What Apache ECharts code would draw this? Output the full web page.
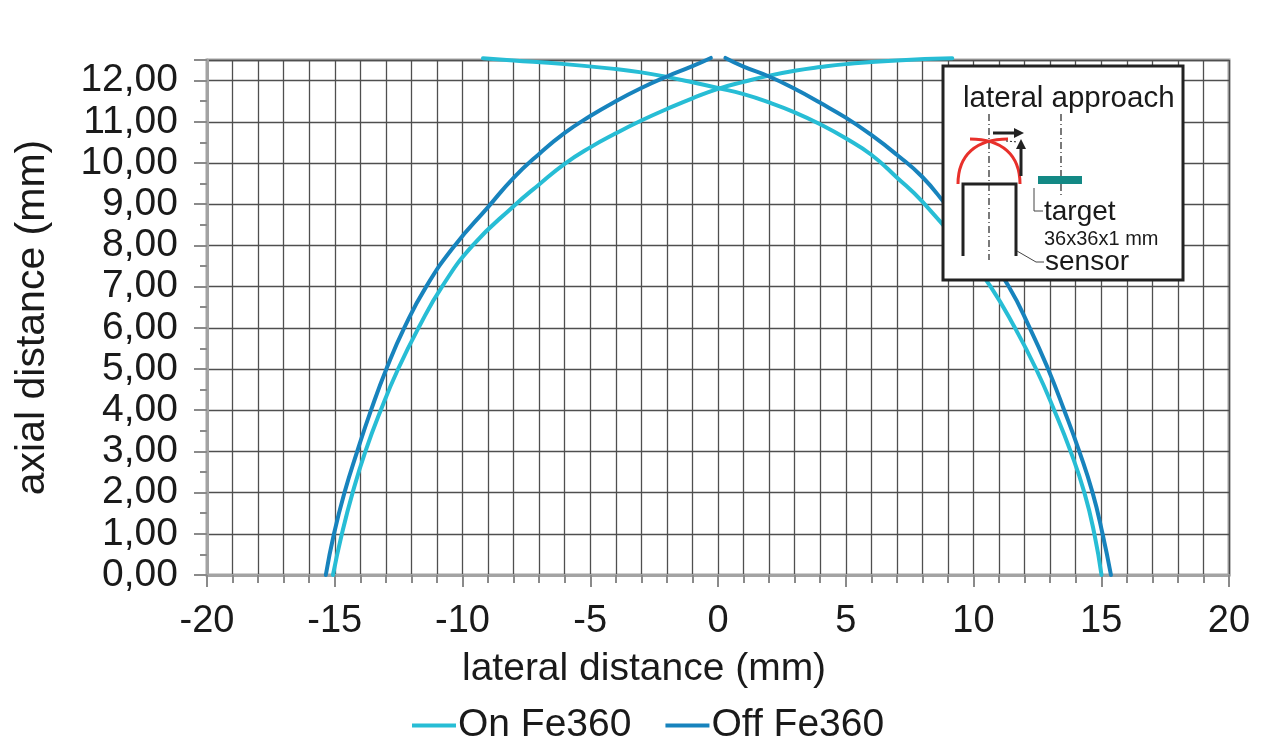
<!DOCTYPE html>
<html>
<head>
<meta charset="utf-8">
<script src="https://cdn.jsdelivr.net/npm/echarts@6/dist/echarts.min.js"></script>
<style>
  html, body { margin: 0; padding: 0; background: #fff; }
  #chart { width: 1280px; height: 749px; }
</style>
</head>
<body>
<div id="chart"></div>
<script>
// lateral (x) / axial (y) distance in mm
// each curve has two branches that cross near the top
var onLeftBranch = [
  [-15.07, 0], [-14.72, 1], [-14.3, 2], [-13.8, 3], [-13.2, 4], [-12.52, 5],
  [-11.72, 6], [-10.8, 7], [-9.6, 8], [-8, 8.95], [-7, 9.48],
  [-6, 9.98], [-5, 10.38], [-4, 10.72], [-3, 11.03], [-2, 11.31], [-1, 11.57],
  [0, 11.8], [1, 11.97], [2, 12.12], [3, 12.24], [4, 12.33], [5, 12.4],
  [7, 12.49], [9.17, 12.54]
];
var onRightBranch = [
  [15.01, 0], [14.73, 1], [14.34, 2], [13.8, 3], [13.16, 4], [12.45, 5],
  [11.62, 6], [10.67, 7], [9.6, 7.9], [8, 9.06], [7, 9.65],
  [6, 10.2], [5, 10.6], [4, 10.94], [3, 11.23], [2, 11.47], [1, 11.67],
  [0, 11.82], [-1, 11.96], [-2, 12.09], [-3, 12.2], [-4, 12.28], [-6, 12.4],
  [-8, 12.49], [-9.2, 12.54]
];
var offLeftBranch = [
  [-15.35, 0], [-15.03, 1], [-14.62, 2], [-14.12, 3], [-13.58, 4], [-12.98, 5],
  [-12.28, 6], [-11.42, 7], [-10.3, 8], [-9, 8.93], [-8, 9.64],
  [-7, 10.22], [-6, 10.73], [-5, 11.14], [-4, 11.5], [-3, 11.82], [-2, 12.1],
  [-1, 12.35], [-0.28, 12.55]
];
var offRightBranch = [
  [15.38, 0], [15.05, 1], [14.66, 2], [14.14, 3], [13.55, 4], [12.92, 5],
  [12.2, 6], [11.38, 7], [10.3, 8], [9, 8.93], [8, 9.66],
  [7, 10.2], [6, 10.68], [5, 11.1], [4, 11.46], [3, 11.8], [2, 12.1],
  [1, 12.34], [0.29, 12.55]
];
var seriesNames = ['On Fe360', 'Off Fe360'];
var seriesColors = ['#27bdd5', '#1783bd'];

var FONT = "'Liberation Sans', Arial, sans-serif";
var TXT = '#1a1a1a';
var GRIDC = '#4f4f4f';
var AXISC = '#a3a3a3';

var myChart = echarts.init(document.getElementById('chart'));

function branch(name, color, data) {
  return {
    name: name,
    type: 'line',
    data: data,
    smooth: 0.5,
    showSymbol: false,
    clip: false,
    z: 5,
    lineStyle: { color: color, width: 4, cap: 'round' },
    itemStyle: { color: color }
  };
}

// inset drawing (sensor sketch)
var insetGraphic = [
  { type: 'rect', z: 100, shape: { x: 943, y: 66, width: 240, height: 214 },
    style: { fill: '#fff', stroke: '#222', lineWidth: 3 } },
  { type: 'text', z: 101, style: { text: 'lateral approach', x: 963, y: 99,
    font: '29.5px ' + FONT, fill: TXT, verticalAlign: 'middle' } },
  // center lines
  { type: 'line', z: 101, shape: { x1: 989, y1: 114, x2: 989, y2: 260 },
    style: { stroke: '#222', lineWidth: 1.2, lineDash: [7, 3, 1, 3] } },
  { type: 'line', z: 101, shape: { x1: 1061, y1: 114, x2: 1061, y2: 195 },
    style: { stroke: '#222', lineWidth: 1.2, lineDash: [7, 3, 1, 3] } },
  // red switching curves
  { type: 'bezierCurve', z: 101, shape: { x1: 958, y1: 184, cpx1: 958, cpy1: 155, cpx2: 976, cpy2: 139, x2: 1008, y2: 139 },
    style: { stroke: '#e8302b', lineWidth: 3, fill: null } },
  { type: 'bezierCurve', z: 101, shape: { x1: 1020, y1: 184, cpx1: 1020, cpy1: 155, cpx2: 1002, cpy2: 139, x2: 970, y2: 139 },
    style: { stroke: '#e8302b', lineWidth: 3, fill: null } },
  // sensor outline
  { type: 'polyline', z: 101, shape: { points: [[963, 256], [963, 184], [1016, 184], [1016, 256]] },
    style: { stroke: '#222', lineWidth: 3, fill: null } },
  { type: 'polyline', z: 101, shape: { points: [[1017, 251], [1036, 262], [1044, 262]] },
    style: { stroke: '#444', lineWidth: 1, fill: null } },
  { type: 'text', z: 101, style: { text: 'sensor', x: 1045, y: 262,
    font: '28px ' + FONT, fill: TXT, verticalAlign: 'middle' } },
  // target plate
  { type: 'rect', z: 101, shape: { x: 1038, y: 176, width: 44, height: 8 },
    style: { fill: '#138985' } },
  { type: 'polyline', z: 101, shape: { points: [[1034, 188], [1034, 211], [1043, 211]] },
    style: { stroke: '#444', lineWidth: 1, fill: null } },
  { type: 'text', z: 101, style: { text: 'target', x: 1044, y: 212,
    font: '28px ' + FONT, fill: TXT, verticalAlign: 'middle' } },
  { type: 'text', z: 101, style: { text: '36x36x1 mm', x: 1044, y: 239,
    font: '20px ' + FONT, fill: TXT, verticalAlign: 'middle' } },
  // arrows
  { type: 'line', z: 101, shape: { x1: 993, y1: 133, x2: 1016, y2: 133 },
    style: { stroke: '#222', lineWidth: 3 } },
  { type: 'polygon', z: 101, shape: { points: [[1024, 133], [1014, 128], [1014, 138]] },
    style: { fill: '#222' } },
  { type: 'line', z: 101, shape: { x1: 1021, y1: 176, x2: 1021, y2: 147 },
    style: { stroke: '#222', lineWidth: 3 } },
  { type: 'polygon', z: 101, shape: { points: [[1021, 139], [1016, 149], [1026, 149]] },
    style: { fill: '#222' } },
  { type: 'line', z: 101, shape: { x1: 1006, y1: 141, x2: 1018, y2: 142 },
    style: { stroke: '#222', lineWidth: 1, lineDash: [2, 2] } }
];

var option = {
  backgroundColor: '#fff',
  animation: false,
  textStyle: { fontFamily: FONT },
  title: {
    text: 'lateral distance (mm)',
    left: 457,
    top: 645,
    textStyle: { fontFamily: FONT, fontSize: 39, fontWeight: 'normal', color: TXT }
  },
  legend: {
    data: seriesNames,
    left: 407,
    top: 701,
    icon: 'rect',
    itemWidth: 44,
    itemHeight: 4,
    itemGap: 34,
    textStyle: { fontFamily: FONT, fontSize: 39, color: TXT, padding: [0, 0, 0, -3] }
  },
  grid: {
    left: 207, right: 51, top: 60, bottom: 174,
    show: true, borderColor: AXISC, borderWidth: 3, backgroundColor: 'transparent'
  },
  xAxis: {
    type: 'value',
    min: -20, max: 20, interval: 5,
    axisLine: { show: true, onZero: false, lineStyle: { color: AXISC, width: 3 } },
    axisTick: { show: true, length: 12, lineStyle: { color: '#8a8a8a', width: 2 } },
    minorTick: { show: true, splitNumber: 5, length: 8, lineStyle: { color: '#8a8a8a', width: 2 } },
    splitLine: { show: true, lineStyle: { color: GRIDC, width: 1.3 } },
    minorSplitLine: { show: true, lineStyle: { color: GRIDC, width: 1.3 } },
    axisLabel: { fontFamily: FONT, fontSize: 38, color: TXT, margin: 28 }
  },
  yAxis: {
    type: 'value',
    min: 0, max: 12.5, interval: 1,
    name: 'axial distance (mm)',
    nameLocation: 'middle',
    nameGap: 154,
    nameTextStyle: { fontFamily: FONT, fontSize: 41, color: TXT },
    axisLine: { show: true, onZero: false, lineStyle: { color: AXISC, width: 3 } },
    axisTick: { show: true, length: 13, lineStyle: { color: '#8a8a8a', width: 2 } },
    minorTick: { show: true, splitNumber: 2, length: 7, lineStyle: { color: '#8a8a8a', width: 2 } },
    splitLine: { show: true, lineStyle: { color: GRIDC, width: 1.3 } },
    axisLabel: {
      fontFamily: FONT, fontSize: 39, color: TXT, margin: 29,
      formatter: function (v) {
        if (Math.abs(v - Math.round(v)) > 1e-6) return '';
        return v.toFixed(2).replace('.', ',');
      }
    }
  },
  graphic: insetGraphic,
  series: [
    branch(seriesNames[0], seriesColors[0], onLeftBranch),
    branch(seriesNames[0], seriesColors[0], onRightBranch),
    branch(seriesNames[1], seriesColors[1], offLeftBranch),
    branch(seriesNames[1], seriesColors[1], offRightBranch)
  ]
};

myChart.setOption(option);
</script>
</body>
</html>
